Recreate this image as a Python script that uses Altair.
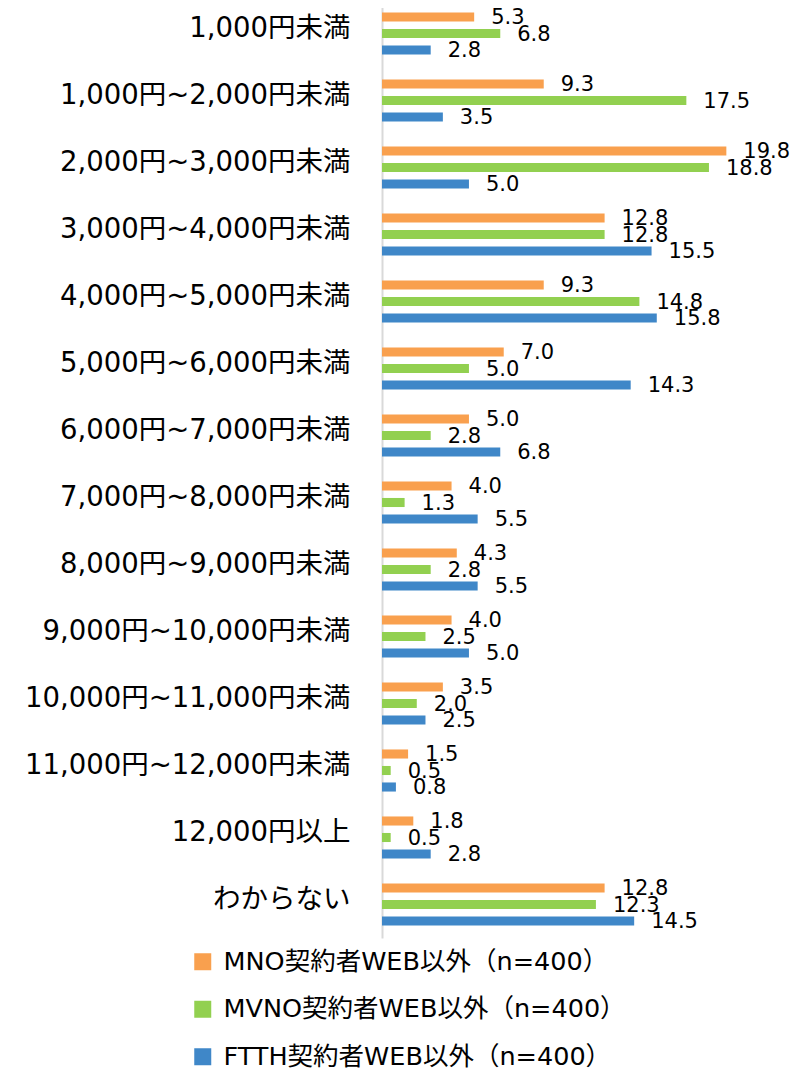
import altair as alt
import pandas as pd

categories = ["1,000円未満", "1,000円~2,000円未満", "2,000円~3,000円未満", "3,000円~4,000円未満",
              "4,000円~5,000円未満", "5,000円~6,000円未満", "6,000円~7,000円未満", "7,000円~8,000円未満",
              "8,000円~9,000円未満", "9,000円~10,000円未満", "10,000円~11,000円未満",
              "11,000円~12,000円未満", "12,000円以上", "わからない"]
series = ["MNO契約者WEB以外（n=400）", "MVNO契約者WEB以外（n=400）", "FTTH契約者WEB以外（n=400）"]
mno = [5.3, 9.3, 19.8, 12.8, 9.3, 7.0, 5.0, 4.0, 4.3, 4.0, 3.5, 1.5, 1.8, 12.8]
mvno = [6.8, 17.5, 18.8, 12.8, 14.8, 5.0, 2.8, 1.3, 2.8, 2.5, 2.0, 0.5, 0.5, 12.3]
ftth = [2.8, 3.5, 5.0, 15.5, 15.8, 14.3, 6.8, 5.5, 5.5, 5.0, 2.5, 0.8, 2.8, 14.5]
colors = ["#F9A04E", "#92D050", "#3F87C8"]

rows = []
for i, c in enumerate(categories):
    for s, vals in zip(series, [mno, mvno, ftth]):
        rows.append({"cat": c, "series": s, "value": vals[i]})
df = pd.DataFrame(rows)

FONT = "DejaVu Sans, Noto Sans CJK JP"

y = alt.Y("cat:N", sort=categories, title=None,
          scale=alt.Scale(paddingInner=0, paddingOuter=0),
          axis=alt.Axis(labelFontSize=27.5, labelFont=FONT, labelColor="#000000", labelPadding=32,
                        ticks=False, domainColor="#D9D9D9", domainWidth=2, labelLimit=400,
                        labelBaseline="middle", labelOffset=-5))
yoff = alt.YOffset("series:N", sort=series,
                   scale=alt.Scale(paddingInner=0.45, paddingOuter=0.755))
x = alt.X("value:Q", title=None, scale=alt.Scale(domain=[0, 23], nice=False),
          axis=None)

bars = alt.Chart(df).mark_bar().encode(
    x=x, y=y, yOffset=yoff,
    color=alt.Color("series:N", sort=series, scale=alt.Scale(domain=series, range=colors),
                    legend=alt.Legend(title=None, orient="none", legendX=-192, legendY=949,
                                      direction="vertical", symbolType="square", symbolSize=289,
                                      symbolStrokeWidth=0, labelFontSize=25.5, labelFont=FONT,
                                      labelColor="#000000", labelOffset=8, rowPadding=20.5,
                                      labelLimit=500)),
)
text = alt.Chart(df).mark_text(align="left", baseline="middle", dx=17, dy=1, fontSize=21,
                               font=FONT, color="#000000").encode(
    x=x, y=alt.Y("cat:N", sort=categories), yOffset=yoff,
    text=alt.Text("value:Q", format=".1f"),
)

chart = (bars + text).properties(
    width=400, height=938,
    padding={"left": 374, "top": -8, "right": 20, "bottom": 136},
    autosize=alt.AutoSizeParams(type="none"),
).configure_view(stroke=None)

chart.save("out.html", embed_options={"renderer": "svg", "actions": False})
